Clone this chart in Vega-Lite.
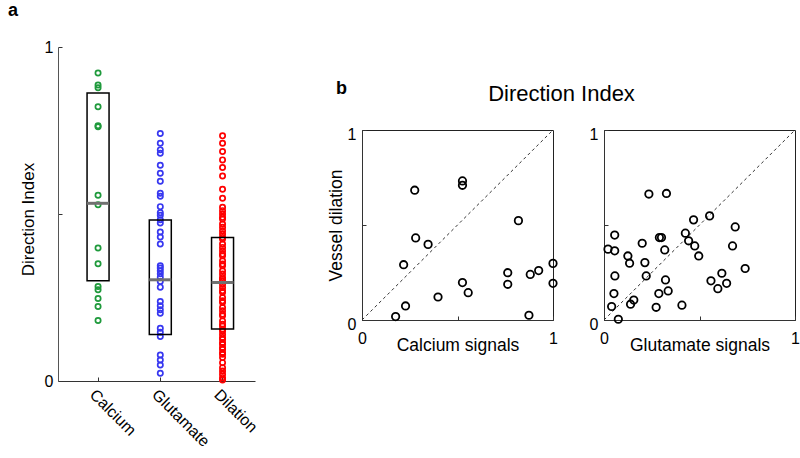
{
  "$schema": "https://vega.github.io/schema/vega-lite/v6.json",
  "padding": {"left": 8, "top": 2, "right": 0, "bottom": 0},
  "background": "white",
  "config": {
    "font": "Liberation Sans",
    "axis": {"labelFont": "Liberation Sans", "titleFont": "Liberation Sans", "labelColor": "black", "titleColor": "black", "domainColor": "#333", "tickColor": "#333", "grid": false, "titleFontWeight": "normal", "labelFontSize": 16, "titleFontSize": 17.5},
    "title": {"font": "Liberation Sans", "color": "black"},
    "view": {"stroke": null}
  },
  "datasets": {
    "strip": [
      {"group": "Calcium", "value": 0.922}, {"group": "Calcium", "value": 0.886}, {"group": "Calcium", "value": 0.878}, {"group": "Calcium", "value": 0.821}, {"group": "Calcium", "value": 0.764}, {"group": "Calcium", "value": 0.761}, {"group": "Calcium", "value": 0.556}, {"group": "Calcium", "value": 0.528}, {"group": "Calcium", "value": 0.398}, {"group": "Calcium", "value": 0.351}, {"group": "Calcium", "value": 0.283}, {"group": "Calcium", "value": 0.273}, {"group": "Calcium", "value": 0.247}, {"group": "Calcium", "value": 0.223}, {"group": "Calcium", "value": 0.181},
      {"group": "Glutamate", "value": 0.741}, {"group": "Glutamate", "value": 0.712}, {"group": "Glutamate", "value": 0.692}, {"group": "Glutamate", "value": 0.682}, {"group": "Glutamate", "value": 0.646}, {"group": "Glutamate", "value": 0.622}, {"group": "Glutamate", "value": 0.598}, {"group": "Glutamate", "value": 0.562}, {"group": "Glutamate", "value": 0.553}, {"group": "Glutamate", "value": 0.522}, {"group": "Glutamate", "value": 0.504}, {"group": "Glutamate", "value": 0.496}, {"group": "Glutamate", "value": 0.483}, {"group": "Glutamate", "value": 0.473}, {"group": "Glutamate", "value": 0.446}, {"group": "Glutamate", "value": 0.431}, {"group": "Glutamate", "value": 0.41}, {"group": "Glutamate", "value": 0.345}, {"group": "Glutamate", "value": 0.338}, {"group": "Glutamate", "value": 0.33}, {"group": "Glutamate", "value": 0.321}, {"group": "Glutamate", "value": 0.311}, {"group": "Glutamate", "value": 0.298}, {"group": "Glutamate", "value": 0.281}, {"group": "Glutamate", "value": 0.238}, {"group": "Glutamate", "value": 0.225}, {"group": "Glutamate", "value": 0.213}, {"group": "Glutamate", "value": 0.203}, {"group": "Glutamate", "value": 0.158}, {"group": "Glutamate", "value": 0.146}, {"group": "Glutamate", "value": 0.133}, {"group": "Glutamate", "value": 0.078}, {"group": "Glutamate", "value": 0.063}, {"group": "Glutamate", "value": 0.048}, {"group": "Glutamate", "value": 0.023},
      {"group": "Dilation", "value": 0.734}, {"group": "Dilation", "value": 0.712}, {"group": "Dilation", "value": 0.687}, {"group": "Dilation", "value": 0.662}, {"group": "Dilation", "value": 0.639}, {"group": "Dilation", "value": 0.614}, {"group": "Dilation", "value": 0.574}, {"group": "Dilation", "value": 0.547}, {"group": "Dilation", "value": 0.52}, {"group": "Dilation", "value": 0.51}, {"group": "Dilation", "value": 0.5}, {"group": "Dilation", "value": 0.49}, {"group": "Dilation", "value": 0.485}, {"group": "Dilation", "value": 0.47}, {"group": "Dilation", "value": 0.46}, {"group": "Dilation", "value": 0.45}, {"group": "Dilation", "value": 0.44}, {"group": "Dilation", "value": 0.43}, {"group": "Dilation", "value": 0.425}, {"group": "Dilation", "value": 0.41}, {"group": "Dilation", "value": 0.4}, {"group": "Dilation", "value": 0.39}, {"group": "Dilation", "value": 0.38}, {"group": "Dilation", "value": 0.375}, {"group": "Dilation", "value": 0.36}, {"group": "Dilation", "value": 0.35}, {"group": "Dilation", "value": 0.345}, {"group": "Dilation", "value": 0.33}, {"group": "Dilation", "value": 0.32}, {"group": "Dilation", "value": 0.31}, {"group": "Dilation", "value": 0.305}, {"group": "Dilation", "value": 0.3}, {"group": "Dilation", "value": 0.29}, {"group": "Dilation", "value": 0.28}, {"group": "Dilation", "value": 0.27}, {"group": "Dilation", "value": 0.265}, {"group": "Dilation", "value": 0.25}, {"group": "Dilation", "value": 0.24}, {"group": "Dilation", "value": 0.235}, {"group": "Dilation", "value": 0.22}, {"group": "Dilation", "value": 0.21}, {"group": "Dilation", "value": 0.2}, {"group": "Dilation", "value": 0.195}, {"group": "Dilation", "value": 0.18}, {"group": "Dilation", "value": 0.17}, {"group": "Dilation", "value": 0.165}, {"group": "Dilation", "value": 0.155}, {"group": "Dilation", "value": 0.15}, {"group": "Dilation", "value": 0.14}, {"group": "Dilation", "value": 0.13}, {"group": "Dilation", "value": 0.125}, {"group": "Dilation", "value": 0.115}, {"group": "Dilation", "value": 0.11}, {"group": "Dilation", "value": 0.1}, {"group": "Dilation", "value": 0.095}, {"group": "Dilation", "value": 0.085}, {"group": "Dilation", "value": 0.08}, {"group": "Dilation", "value": 0.07}, {"group": "Dilation", "value": 0.055}, {"group": "Dilation", "value": 0.04}, {"group": "Dilation", "value": 0.03}, {"group": "Dilation", "value": 0.02}, {"group": "Dilation", "value": 0.01}, {"group": "Dilation", "value": 0.003}
    ],
    "boxes": [
      {"group": "Calcium", "q1": 0.3, "q3": 0.862, "median": 0.532},
      {"group": "Glutamate", "q1": 0.139, "q3": 0.482, "median": 0.303},
      {"group": "Dilation", "q1": 0.156, "q3": 0.43, "median": 0.295}
    ],
    "calcium": [
      {"signal": 0.276, "dilation": 0.683}, {"signal": 0.526, "dilation": 0.732}, {"signal": 0.526, "dilation": 0.709}, {"signal": 0.819, "dilation": 0.523}, {"signal": 0.281, "dilation": 0.432}, {"signal": 0.346, "dilation": 0.398}, {"signal": 0.218, "dilation": 0.291}, {"signal": 1.0, "dilation": 0.298}, {"signal": 0.763, "dilation": 0.249}, {"signal": 0.881, "dilation": 0.24}, {"signal": 0.925, "dilation": 0.26}, {"signal": 0.526, "dilation": 0.197}, {"signal": 0.763, "dilation": 0.188}, {"signal": 1.0, "dilation": 0.193}, {"signal": 0.556, "dilation": 0.144}, {"signal": 0.398, "dilation": 0.121}, {"signal": 0.228, "dilation": 0.074}, {"signal": 0.176, "dilation": 0.018}, {"signal": 0.874, "dilation": 0.025}
    ],
    "glutamate": [
      {"signal": 0.235, "dilation": 0.663}, {"signal": 0.327, "dilation": 0.666}, {"signal": 0.553, "dilation": 0.548}, {"signal": 0.469, "dilation": 0.527}, {"signal": 0.687, "dilation": 0.49}, {"signal": 0.426, "dilation": 0.457}, {"signal": 0.443, "dilation": 0.417}, {"signal": 0.475, "dilation": 0.39}, {"signal": 0.496, "dilation": 0.337}, {"signal": 0.673, "dilation": 0.39}, {"signal": 0.056, "dilation": 0.447}, {"signal": 0.29, "dilation": 0.434}, {"signal": 0.301, "dilation": 0.434}, {"signal": 0.2, "dilation": 0.404}, {"signal": 0.021, "dilation": 0.373}, {"signal": 0.056, "dilation": 0.364}, {"signal": 0.318, "dilation": 0.369}, {"signal": 0.125, "dilation": 0.337}, {"signal": 0.134, "dilation": 0.299}, {"signal": 0.214, "dilation": 0.302}, {"signal": 0.739, "dilation": 0.271}, {"signal": 0.057, "dilation": 0.232}, {"signal": 0.221, "dilation": 0.232}, {"signal": 0.617, "dilation": 0.246}, {"signal": 0.56, "dilation": 0.206}, {"signal": 0.642, "dilation": 0.193}, {"signal": 0.596, "dilation": 0.165}, {"signal": 0.322, "dilation": 0.211}, {"signal": 0.336, "dilation": 0.153}, {"signal": 0.287, "dilation": 0.139}, {"signal": 0.052, "dilation": 0.139}, {"signal": 0.156, "dilation": 0.105}, {"signal": 0.139, "dilation": 0.083}, {"signal": 0.04, "dilation": 0.071}, {"signal": 0.273, "dilation": 0.067}, {"signal": 0.408, "dilation": 0.078}, {"signal": 0.075, "dilation": 0.004}
    ]
  },
  "spacing": 66,
  "hconcat": [
    {
      "width": 197,
      "height": 334,
      "title": {"text": "a", "anchor": "start", "frame": "group", "dx": -50, "fontSize": 18, "fontWeight": "bold", "offset": 19},
      "layer": [
        {
          "data": {"name": "strip"},
          "mark": {"type": "point", "shape": "circle", "filled": false, "size": 28, "strokeWidth": 1.7, "opacity": 1},
          "encoding": {
            "x": {"field": "group", "type": "nominal", "sort": ["Calcium", "Glutamate", "Dilation"],
                  "scale": {"type": "band", "paddingInner": 0, "paddingOuter": 0.0825, "align": 0.87},
                  "axis": {"title": null, "labelAngle": 45, "labelAlign": "left", "labelBaseline": "top", "tickSize": -4, "labelPadding": 9, "bandPosition": 0.5, "domainColor": "#333", "labelFontSize": 16}},
            "y": {"field": "value", "type": "quantitative", "scale": {"domain": [0, 1], "nice": false},
                  "axis": {"values": [0, 0.5, 1], "labelExpr": "datum.value == 0 ? '0' : datum.value == 1 ? '1' : ''", "tickSize": -4, "labelPadding": 9, "title": "Direction Index", "titleFontSize": 17, "titlePadding": 7, "titleY": 172, "domainColor": "#555"}},
            "color": {"field": "group", "type": "nominal", "scale": {"domain": ["Calcium", "Glutamate", "Dilation"], "range": ["#1f9a3c", "#3838f0", "#ff0000"]}, "legend": null}
          }
        },
        {
          "data": {"name": "boxes"},
          "mark": {"type": "bar", "width": 22, "filled": false, "color": "black", "strokeWidth": 1.5},
          "encoding": {
            "x": {"field": "group", "type": "nominal", "sort": ["Calcium", "Glutamate", "Dilation"]},
            "y": {"field": "q1", "type": "quantitative"},
            "y2": {"field": "q3"}
          }
        },
        {
          "data": {"name": "boxes"},
          "mark": {"type": "tick", "size": 22, "thickness": 3, "color": "#707070", "opacity": 1},
          "encoding": {
            "x": {"field": "group", "type": "nominal", "sort": ["Calcium", "Glutamate", "Dilation"]},
            "y": {"field": "median", "type": "quantitative"}
          }
        }
      ]
    },
    {
      "bounds": "flush",
      "spacing": 0,
      "vconcat": [
        {
          "width": 399,
          "height": 83,
          "data": {"values": [{"label": "Direction Index"}]},
          "title": {"text": "b", "orient": "left", "angle": 0, "anchor": "middle", "align": "right", "baseline": "middle", "offset": 4, "fontSize": 18, "fontWeight": "bold"},
          "mark": {"type": "text", "fontSize": 22, "baseline": "middle", "dy": 5, "font": "Liberation Sans", "color": "black"},
          "encoding": {"text": {"field": "label", "type": "nominal"}}
        },
        {
          "bounds": "flush",
          "spacing": 51,
          "hconcat": [
            {
              "width": 191,
              "height": 190,
              "view": {"stroke": "#222", "strokeWidth": 1},
              "layer": [
                {
                  "data": {"values": [{}]},
                  "mark": {"type": "rule", "strokeDash": [3, 3], "color": "#333", "strokeWidth": 1},
                  "encoding": {"x": {"datum": 0, "type": "quantitative"}, "y": {"datum": 0, "type": "quantitative"}, "x2": {"datum": 1}, "y2": {"datum": 1}}
                },
                {
                  "data": {"name": "calcium"},
                  "mark": {"type": "point", "shape": "circle", "filled": false, "size": 55, "strokeWidth": 1.8, "color": "black", "opacity": 1},
                  "encoding": {
                    "x": {"field": "signal", "type": "quantitative", "scale": {"domain": [0, 1], "nice": false},
                          "axis": {"values": [0, 0.5, 1], "labelExpr": "datum.value == 0 ? '0' : datum.value == 1 ? '1' : ''", "tickSize": -4, "labelPadding": 14, "labelFlush": false, "title": "Calcium signals", "titlePadding": -10}},
                    "y": {"field": "dilation", "type": "quantitative", "scale": {"domain": [0, 1], "nice": false},
                          "axis": {"values": [0, 0.5, 1], "labelExpr": "datum.value == 0 ? '0' : datum.value == 1 ? '1' : ''", "tickSize": -4, "labelPadding": 10, "labelOffset": 4, "title": "Vessel dilation", "titlePadding": 2}}
                  }
                }
              ]
            },
            {
              "width": 191,
              "height": 190,
              "view": {"stroke": "#222", "strokeWidth": 1},
              "layer": [
                {
                  "data": {"values": [{}]},
                  "mark": {"type": "rule", "strokeDash": [3, 3], "color": "#333", "strokeWidth": 1},
                  "encoding": {"x": {"datum": 0, "type": "quantitative"}, "y": {"datum": 0, "type": "quantitative"}, "x2": {"datum": 1}, "y2": {"datum": 1}}
                },
                {
                  "data": {"name": "glutamate"},
                  "mark": {"type": "point", "shape": "circle", "filled": false, "size": 55, "strokeWidth": 1.8, "color": "black", "opacity": 1},
                  "encoding": {
                    "x": {"field": "signal", "type": "quantitative", "scale": {"domain": [0, 1], "nice": false},
                          "axis": {"values": [0, 0.5, 1], "labelExpr": "datum.value == 0 ? '0' : datum.value == 1 ? '1' : ''", "tickSize": -4, "labelPadding": 14, "labelFlush": false, "title": "Glutamate signals", "titlePadding": -10}},
                    "y": {"field": "dilation", "type": "quantitative", "scale": {"domain": [0, 1], "nice": false},
                          "axis": {"values": [0, 0.5, 1], "labelExpr": "datum.value == 0 ? '0' : datum.value == 1 ? '1' : ''", "tickSize": -4, "labelPadding": 10, "labelOffset": 4, "title": null}}
                  }
                }
              ]
            }
          ]
        }
      ]
    }
  ]
}
